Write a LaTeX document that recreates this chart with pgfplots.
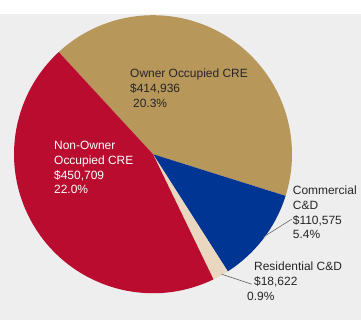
\documentclass[border=0pt]{standalone}
\usepackage{pgfplots}
\usepackage{pgfplotstable}
\pgfplotsset{compat=1.18}
\usepackage{fontspec}
\setmainfont{Liberation Sans}
\definecolor{bg}{HTML}{EEEEEE}
\definecolor{ctan}{HTML}{B8975B}
\definecolor{cblue}{HTML}{003594}
\definecolor{cbeige}{HTML}{E9D8BF}
\definecolor{cred}{HTML}{BA0C2F}
\definecolor{txt}{HTML}{262626}
\pgfplotstableread{
name value pct
Owner 414936 20.3
Commercial 110575 5.4
Residential 18622 0.9
NonOwner 450709 22.0
}\pietable
\begin{document}
\begin{tikzpicture}
\pgfplotstablegetelem{0}{value}\of\pietable\edef\vA{\pgfplotsretval}
\pgfplotstablegetelem{1}{value}\of\pietable\edef\vB{\pgfplotsretval}
\pgfplotstablegetelem{2}{value}\of\pietable\edef\vC{\pgfplotsretval}
\pgfplotstablegetelem{3}{value}\of\pietable\edef\vD{\pgfplotsretval}
\edef\tot{\fpeval{\vA+\vB+\vC+\vD}}
\edef\aS{132.7}
\edef\aA{\fpeval{\aS-360*\vA/\tot}}
\edef\aB{\fpeval{\aA-360*\vB/\tot}}
\edef\aC{\fpeval{\aB-360*\vC/\tot}}
\edef\aD{\fpeval{\aC-360*\vD/\tot}}
\begin{axis}[scale only axis, width=361bp, height=306bp,
  xmin=0, xmax=361, ymin=0, ymax=306, hide axis, clip=false]
\fill[bg] (axis cs:0,0) rectangle (axis cs:361,306);
\fill[ctan] (axis cs:153,166) -- ++(\aS:139bp) arc[start angle=\aS, end angle=\aA, radius=139bp] -- cycle;
\fill[cblue] (axis cs:153,166) -- ++(\aA:139bp) arc[start angle=\aA, end angle=\aB, radius=139bp] -- cycle;
\fill[cbeige] (axis cs:153,166) -- ++(\aB:139bp) arc[start angle=\aB, end angle=\aC, radius=139bp] -- cycle;
\fill[cred] (axis cs:153,166) -- ++(\aC:139bp) arc[start angle=\aC, end angle=\aD, radius=139bp] -- cycle;
\draw[gray!80!black, line width=0.6pt] (axis cs:291.7,101) -- (axis cs:263,83);
\draw[gray!80!black, line width=0.6pt] (axis cs:221.7,46) -- (axis cs:251.7,36);
\begin{scope}[every node/.style={inner sep=0pt, align=left, anchor=north west, font=\fontsize{12}{14.8}\selectfont}]
\node[text=txt] at (axis cs:130,251.5) {Owner Occupied CRE\\\$414,936\\\hspace{3bp}20.3\%};
\node[text=white] at (axis cs:54,179) {Non-Owner\\Occupied CRE\\\$450,709\\22.0\%};
\node[text=txt] at (axis cs:292.7,134.5) {Commercial\\C\&D\\\$110,575\\5.4\%};
\node[text=txt] at (axis cs:254,58.5) {Residential C\&D\\\$18,622};
\node[text=txt] at (axis cs:247,28.5) {0.9\%};
\end{scope}
\end{axis}
\end{tikzpicture}
\end{document}
